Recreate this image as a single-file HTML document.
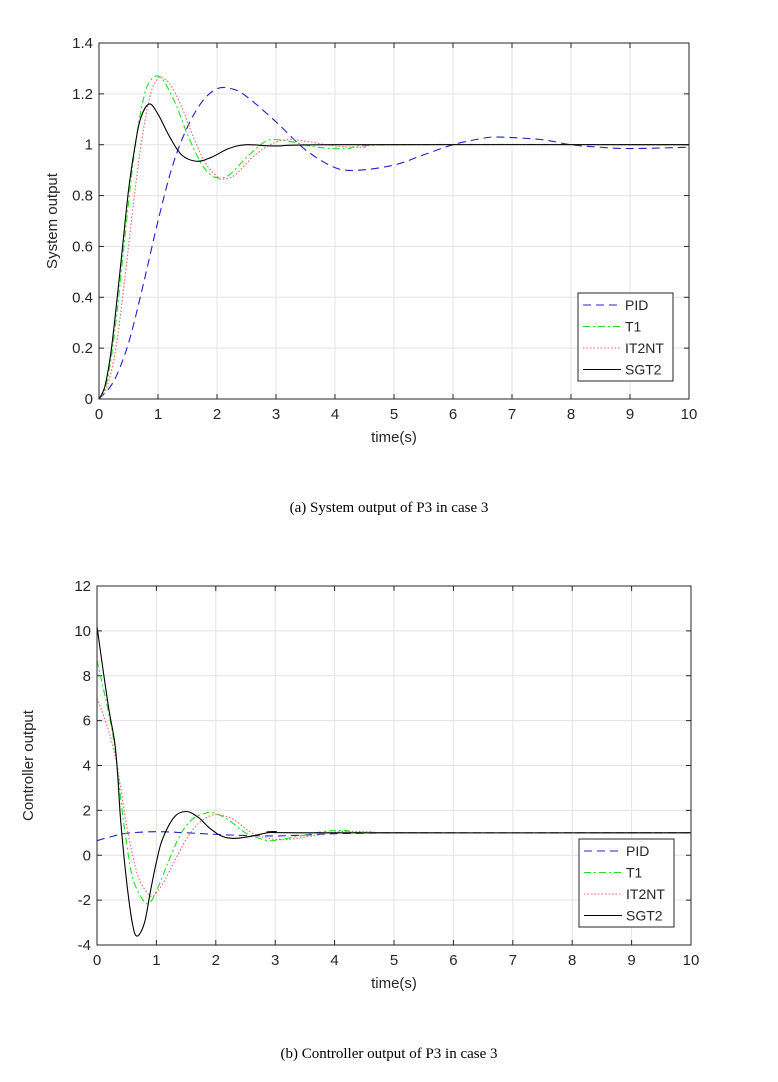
<!DOCTYPE html>
<html><head><meta charset="utf-8"><style>
body{margin:0;background:#fff;width:778px;height:1082px;overflow:hidden}
svg{position:absolute;left:0;top:0}
text{font-family:"Liberation Sans",Arial,sans-serif;fill:#262626}
.cap{font-family:"Liberation Serif",serif;font-size:15px;fill:#000}
</style></head><body>
<svg id="chart" width="778" height="1082"></svg>
<script>
// ---- data: system output (a)
const sysPID_t=[0,0.25,0.5,0.75,1,1.25,1.5,1.75,2,2.25,2.5,3,3.5,4,4.4,5,5.5,6,6.5,6.8,7.5,8,8.5,9,10];
const sysPID_v=[0,0.07,0.22,0.45,0.7,0.92,1.07,1.17,1.22,1.22,1.19,1.09,0.98,0.91,0.9,0.92,0.96,1.0,1.025,1.03,1.02,1.0,0.99,0.985,0.99];
const sysT1_t=[0,0.1,0.2,0.3,0.4,0.5,0.6,0.7,0.8,0.9,1.0,1.1,1.3,1.5,1.7,1.85,2.0,2.2,2.5,2.8,3.0,3.3,3.7,4.2,5,10];
const sysT1_v=[0,0.04,0.15,0.33,0.55,0.77,0.97,1.12,1.22,1.26,1.27,1.25,1.16,1.04,0.94,0.89,0.87,0.88,0.95,1.01,1.02,1.01,0.99,0.985,1.0,1.0];
const sysIT2_t=[0,0.1,0.2,0.3,0.4,0.5,0.6,0.7,0.8,0.9,1.0,1.05,1.2,1.4,1.6,1.8,2.0,2.1,2.3,2.6,2.9,3.2,3.6,4.0,4.5,5,10];
const sysIT2_v=[0,0.03,0.1,0.22,0.4,0.6,0.8,0.98,1.12,1.22,1.26,1.265,1.24,1.15,1.03,0.93,0.875,0.865,0.88,0.95,1.0,1.02,1.01,0.995,0.99,1.0,1.0];
const sysSGT2_t=[0,0.1,0.2,0.3,0.4,0.5,0.6,0.7,0.85,1.0,1.2,1.4,1.65,1.9,2.2,2.5,3,4,10];
const sysSGT2_v=[0,0.05,0.18,0.38,0.6,0.82,0.98,1.1,1.16,1.12,1.03,0.96,0.935,0.95,0.985,1.0,0.995,1.0,1.0];
// ---- data: controller output (b)
const ctlPID_t=[0,0.2,0.5,1,1.5,2,2.5,3,3.5,4,5,6,10];
const ctlPID_v=[0.65,0.8,0.98,1.05,1.0,0.93,0.88,0.86,0.9,0.96,1.0,1.0,1.0];
const ctlT1_t=[0,0.1,0.2,0.3,0.4,0.5,0.6,0.75,0.87,1.0,1.2,1.4,1.6,1.8,1.95,2.2,2.5,2.8,2.95,3.3,3.8,4.2,4.8,10];
const ctlT1_v=[8.7,7.5,6.3,4.8,2.5,0.5,-1.0,-1.9,-2.15,-1.6,-0.3,0.9,1.6,1.85,1.9,1.6,1.0,0.7,0.65,0.8,1.05,1.1,1.0,1.0];
const ctlIT2_t=[0,0.1,0.2,0.3,0.4,0.5,0.6,0.7,0.85,0.95,1.1,1.3,1.5,1.7,1.9,2.05,2.3,2.6,2.9,3.2,3.6,4.1,4.6,5.2,10];
const ctlIT2_v=[7.0,6.3,5.5,4.5,3.0,1.3,0.0,-1.0,-1.7,-1.8,-1.3,-0.3,0.7,1.4,1.75,1.8,1.6,1.0,0.75,0.7,0.85,1.05,1.05,1.0,1.0];
const ctlSGT2_t=[0,0.1,0.2,0.3,0.35,0.4,0.5,0.6,0.68,0.8,0.9,1.0,1.1,1.3,1.5,1.7,1.9,2.1,2.3,2.6,3.0,3.5,10];
const ctlSGT2_v=[10.2,8.3,6.5,5.0,3.5,1.5,-1.2,-3.1,-3.6,-3.0,-1.6,-0.3,0.7,1.7,1.95,1.7,1.2,0.85,0.75,0.85,1.05,1.0,1.0];
const xTicks=[0,1,2,3,4,5,6,7,8,9,10];
const yTicksA=[0,0.2,0.4,0.6,0.8,1,1.2,1.4];
const yTicksB=[-4,-2,0,2,4,6,8,10,12];
const legendNames=["PID","T1","IT2NT","SGT2"];

const NS="http://www.w3.org/2000/svg";
const svg=document.getElementById('chart');
function mk(tag,attrs,parent){const e=document.createElementNS(NS,tag);for(const k in attrs)e.setAttribute(k,attrs[k]);(parent||svg).appendChild(e);return e;}
const styles=[
 {stroke:"#2020d0",dash:"8,5"},
 {stroke:"#20e020",dash:"7,3,2,3"},
 {stroke:"#f06060",dash:"1.5,2"},
 {stroke:"#000",dash:""}];

function path(ts,vs,sx,sy){
  const p=ts.map((t,i)=>[sx(t),sy(vs[i])]);
  let d="M"+p[0][0]+","+p[0][1];
  for(let i=0;i<p.length-1;i++){
    const p0=p[Math.max(i-1,0)],p1=p[i],p2=p[i+1],p3=p[Math.min(i+2,p.length-1)];
    const c1=[p1[0]+(p2[0]-p0[0])/6,p1[1]+(p2[1]-p0[1])/6];
    const c2=[p2[0]-(p3[0]-p1[0])/6,p2[1]-(p3[1]-p1[1])/6];
    d+=` C${c1[0]},${c1[1]} ${c2[0]},${c2[1]} ${p2[0]},${p2[1]}`;
  }
  return d;
}

function drawChart(cfg){
  const g=mk('g',{});
  
  
  const {x0,x1,y0,y1,ymin,ymax}=cfg;
  const sx=t=>x0+(t-0)/10*(x1-x0);
  const sy=v=>y0-(v-ymin)/(ymax-ymin)*(y0-y1);
  mk('rect',{x:x0,y:y1,width:x1-x0,height:y0-y1,fill:"#fff"},g);
  xTicks.forEach(t=>{
    const l=mk('line',{x1:sx(t),x2:sx(t),y1:y1,y2:y0,stroke:"#e3e3e3","stroke-width":1},g);
    
    
    mk('line',{x1:sx(t),x2:sx(t),y1:y0,y2:y0-5,stroke:"#262626"},g);
    mk('line',{x1:sx(t),x2:sx(t),y1:y1,y2:y1+5,stroke:"#262626"},g);
    const tx=mk('text',{x:sx(t),y:y0+20,"text-anchor":"middle","font-size":15},g);
    tx.textContent=t;
    
    
  });
  cfg.yTicks.forEach(v=>{
    const l=mk('line',{x1:x0,x2:x1,y1:sy(v),y2:sy(v),stroke:"#e3e3e3"},g);
    
    
    mk('line',{x1:x0,x2:x0+5,y1:sy(v),y2:sy(v),stroke:"#262626"},g);
    mk('line',{x1:x1,x2:x1-5,y1:sy(v),y2:sy(v),stroke:"#262626"},g);
    const tx=mk('text',{x:x0-6,y:sy(v)+5,"text-anchor":"end","font-size":15},g);
    tx.textContent=v;
    
    
  });
  cfg.series.forEach((s,i)=>{
    const p=mk('path',{d:path(s[0],s[1],sx,sy),fill:"none",stroke:styles[i].stroke,"stroke-width":1.1,"stroke-dasharray":styles[i].dash},g);
    
    
  });
  mk('rect',{x:x0,y:y1,width:x1-x0,height:y0-y1,fill:"none",stroke:"#262626","stroke-width":1},g);
  const xl=mk('text',{x:(x0+x1)/2,y:y0+43,"text-anchor":"middle","font-size":15},g);
  xl.textContent="time(s)";
  
  
  const yl=mk('text',{x:0,y:0,"text-anchor":"middle","font-size":15,transform:`translate(${cfg.ylx},${(y0+y1)/2}) rotate(-90)`},g);
  yl.textContent=cfg.ylabel;
  
  
  const L=cfg.leg;
  const lg=mk('g',{},g);
  
  
  mk('rect',{x:L.x,y:L.y,width:95,height:88,fill:"#fff",stroke:"#262626"},lg);
  legendNames.forEach((n,i)=>{
    const yy=L.y+12+i*21.5;
    mk('line',{x1:L.x+5,x2:L.x+43,y1:yy,y2:yy,stroke:styles[i].stroke,"stroke-width":1.1,"stroke-dasharray":styles[i].dash},lg);
    const t=mk('text',{x:L.x+47,y:yy+5,"font-size":14},lg);
    t.textContent=n;
    
    
  });
  const c=mk('text',{x:389,y:cfg.capY,"text-anchor":"middle",class:"cap"},g);
  c.textContent=cfg.caption;
  
  
}

drawChart({name:'system-output-chart',x0:99,x1:689,y0:399,y1:43,ymin:0,ymax:1.4,yTicks:yTicksA,ylx:57,ylabel:"System output",
  series:[[sysPID_t,sysPID_v],[sysT1_t,sysT1_v],[sysIT2_t,sysIT2_v],[sysSGT2_t,sysSGT2_v]],
  leg:{x:578,y:293},capY:512,caption:"(a) System output of P3 in case 3"});
drawChart({name:'controller-output-chart',x0:97,x1:691,y0:945,y1:586,ymin:-4,ymax:12,yTicks:yTicksB,ylx:33,ylabel:"Controller output",
  series:[[ctlPID_t,ctlPID_v],[ctlT1_t,ctlT1_v],[ctlIT2_t,ctlIT2_v],[ctlSGT2_t,ctlSGT2_v]],
  leg:{x:579,y:839},capY:1058,caption:"(b) Controller output of P3 in case 3"});
</script>
</body></html>
